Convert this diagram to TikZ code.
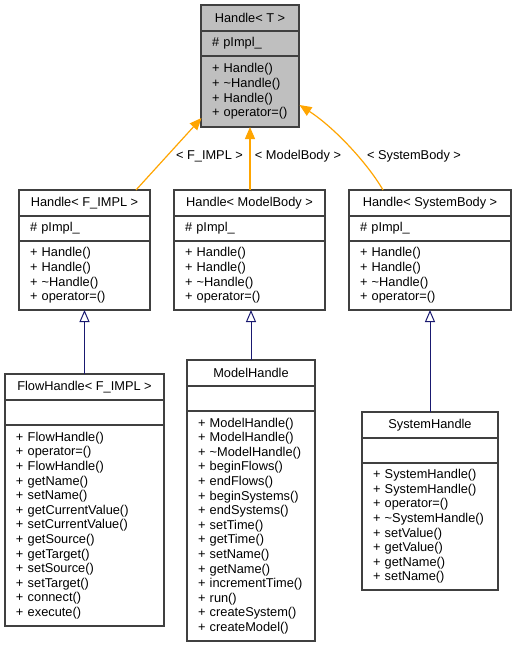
\documentclass[tikz,border=0pt]{standalone}
\usepackage{fontspec}
\setmainfont{Liberation Sans}
\usetikzlibrary{arrows.meta}
\definecolor{boxline}{HTML}{404040}
\definecolor{topfill}{HTML}{BFBFBF}
\definecolor{inhcol}{HTML}{191970}
\definecolor{tplcol}{HTML}{FFA500}
\newcommand\classbox[9]{%
  % #1 name, #2 x, #3 y, #4 width, #5 title, #6 attr, #7 methods, #8 methods height, #9 extra style
  \pgfmathsetmacro\cbtw{#4-22}%
  \node[secbox,#9,minimum width=#4pt,minimum height=26pt,anchor=north west,align=center] (#1) at (#2,#3) {#5};
  \node[secbox,#9,text width=\cbtw pt,minimum height=25pt,anchor=north west,align=left] (#1a) at (#1.south west) {#6};
  \node[secbox,#9,text width=\cbtw pt,minimum height=#8pt,anchor=north west,align=left] (#1m) at (#1a.south west) {#7};
}
\begin{document}
\begin{tikzpicture}[x=1pt,y=-1pt,
  secbox/.style={draw=boxline,line width=1.1pt,fill=white,rectangle,inner xsep=11pt,inner ysep=0pt,outer sep=0pt,
    font=\fontsize{12.8}{14.6}\selectfont},
  topbox/.style={fill=topfill},
  inh/.style={draw=inhcol,line width=1pt,-{Triangle[open,length=12pt,width=10pt]}},
  tpl/.style={draw=tplcol,line width=1.2pt,-{Triangle[length=12pt,width=10pt]}},
  lbl/.style={font=\fontsize{12.8}{14.6}\selectfont,inner sep=0pt}]
\fill[white] (0,0) rectangle (516,648);
\useasboundingbox (0,0) rectangle (516,648);

\classbox{ht}{201}{5}{98}{Handle< T >}{\# pImpl\_}{+ Handle()\\+ \textasciitilde Handle()\\+ Handle()\\+ operator=()}{71}{topbox}
\classbox{hf}{19}{190}{131}{Handle< F\_IMPL >}{\# pImpl\_}{+ Handle()\\+ Handle()\\+ \textasciitilde Handle()\\+ operator=()}{69}{}
\classbox{hm}{174}{190}{151}{Handle< ModelBody >}{\# pImpl\_}{+ Handle()\\+ Handle()\\+ \textasciitilde Handle()\\+ operator=()}{69}{}
\classbox{hs}{349}{190}{162}{Handle< SystemBody >}{\# pImpl\_}{+ Handle()\\+ Handle()\\+ \textasciitilde Handle()\\+ operator=()}{69}{}
\classbox{fh}{5}{374}{159}{FlowHandle< F\_IMPL >}{}{+ FlowHandle()\\+ operator=()\\+ FlowHandle()\\+ getName()\\+ setName()\\+ getCurrentValue()\\+ setCurrentValue()\\+ getSource()\\+ getTarget()\\+ setSource()\\+ setTarget()\\+ connect()\\+ execute()}{201}{}
\classbox{mh}{187}{360}{128}{ModelHandle}{}{+ ModelHandle()\\+ ModelHandle()\\+ \textasciitilde ModelHandle()\\+ beginFlows()\\+ endFlows()\\+ beginSystems()\\+ endSystems()\\+ setTime()\\+ getTime()\\+ setName()\\+ getName()\\+ incrementTime()\\+ run()\\+ createSystem()\\+ createModel()}{230}{}
\classbox{sh}{362}{412}{136}{SystemHandle}{}{+ SystemHandle()\\+ SystemHandle()\\+ operator=()\\+ \textasciitilde SystemHandle()\\+ setValue()\\+ getValue()\\+ getName()\\+ setName()}{127}{}

% template instantiation edges
\coordinate (fstart) at (136,190);
\coordinate (ftip) at (201.5,118);
\coordinate (mstart) at (250,190);
\coordinate (mtip) at (250,127);
\coordinate (sstart) at (383,190);
\coordinate (stip) at (299.5,105);
\draw[tpl] (fstart) -- (ftip);
\draw[tpl] (mstart) -- (mtip);
\draw[tpl] (sstart) .. controls (368,164) and (335,128) .. (stip);
\node[lbl] (lf) at (209.5,156) {< F\_IMPL >};
\node[lbl] (lm) at (298,156) {< ModelBody >};
\node[lbl] (ls) at (414,156) {< SystemBody >};

% inheritance edges
\draw[inh] (fh.north) -- (fh.north |- hfm.south);
\draw[inh] (mh.north) -- (mh.north |- hmm.south);
\draw[inh] (sh.north) -- (sh.north |- hsm.south);
\end{tikzpicture}
\end{document}
